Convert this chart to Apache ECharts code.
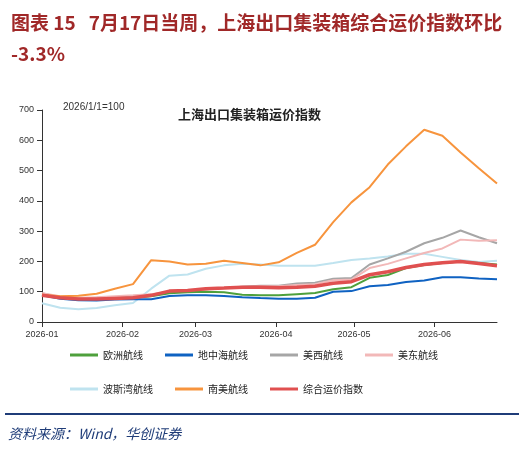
<!DOCTYPE html><html><head><meta charset="utf-8"><script src="https://cdn.jsdelivr.net/npm/echarts@6/dist/echarts.min.js"></script></head><body style="margin:0;background:#fff"><div id="c" style="width:524px;height:449px"></div><script>
const startDate='2026-01-01';
const names=['欧洲航线','地中海航线','美西航线','美东航线','波斯湾航线','南美航线','综合运价指数'];
const colors=['#4ea03c','#0f62c2','#a6a6a6','#f2b8b8','#bfe3ef','#f7943d','#e05050'];
const europe=[90,80,76,76,78,80,85,95,98,100,98,90,88,88,92,96,108,115,146,155,178,188,195,200,195,190];
const med=[88,77,72,71,74,75,75,86,88,88,86,82,79,77,77,80,100,102,118,122,132,137,148,148,144,141];
const usWest=[95,82,78,80,82,85,90,100,102,108,112,116,120,120,127,130,143,145,190,210,232,260,278,302,280,260];
const usEast=[95,85,80,82,85,88,92,100,103,108,112,115,118,118,122,125,138,140,178,192,210,228,243,272,268,270];
const gulf=[62,47,42,46,55,63,110,153,157,176,187,192,190,186,186,186,195,205,210,216,225,225,215,205,198,202];
const southAm=[90,85,87,93,110,125,204,200,190,192,202,195,187,197,228,255,330,395,445,520,580,635,615,560,508,457];
const composite=[88,80,76,76,78,80,88,102,104,110,112,115,115,113,115,118,128,133,156,166,180,190,196,200,193,186];
const yTicks=[0,100,200,300,400,500,600,700];
const all=[europe,med,usWest,usEast,gulf,southAm,composite];
const t0=Date.parse(startDate);
const dates=europe.map((_,i)=>t0+i*7*86400000);
const order=[4,2,3,0,1,5,6];
const series=order.map(k=>({name:names[k],type:'line',showSymbol:false,z:k==6?5:2,
 lineStyle:{width:k==6?3.5:2,color:colors[k]},itemStyle:{color:colors[k]},
 data:all[k].map((v,i)=>[dates[i],v])}));
const c=echarts.init(document.getElementById('c'));
c.setOption({animation:false,
 title:[{text:'图表 15   7月17日当周，上海出口集装箱综合运价指数环比-3.3%',left:6,top:2,
   textStyle:{fontFamily:'Noto Sans CJK SC',fontSize:19,fontWeight:'bold',color:'#a02828',width:505,overflow:'break',lineHeight:31}},
  {text:'上海出口集装箱运价指数',left:173,top:103,textStyle:{fontFamily:'Noto Sans CJK SC',fontSize:13,fontWeight:'bold',color:'#222'}},
  {text:'2026/1/1=100',left:58,top:97,textStyle:{fontFamily:'Liberation Sans',fontSize:10,fontWeight:'normal',color:'#333'}}],
 graphic:[
  {type:'line',shape:{x1:5,y1:414,x2:519,y2:414},style:{stroke:'#1f3c78',lineWidth:2}},
  {type:'text',left:8,top:427,style:{text:'资料来源：Wind，华创证券',font:'italic 14px "Noto Sans CJK SC"',fill:'#1f3c78'}}],
 legend:{data:names,left:70,top:349,width:420,itemWidth:28,itemHeight:3,itemGap:22,icon:'rect',padding:0,
  textStyle:{fontSize:10,fontFamily:'Noto Sans CJK SC',color:'#222',lineHeight:12,padding:[0,0,0,0]}},
 grid:{left:42,right:27,top:110,bottom:127},
 xAxis:{type:'time',min:t0,max:dates[dates.length-1],
  axisLine:{lineStyle:{color:'#333'}},axisTick:{show:true,lineStyle:{color:'#333'}},splitLine:{show:false},
  splitNumber:6,minInterval:28*86400000,
  axisLabel:{color:'#333',fontSize:9,fontFamily:'Liberation Sans',formatter:v=>{const d=new Date(v);return d.getFullYear()+'-'+String(d.getMonth()+1).padStart(2,'0');}}},
 yAxis:{type:'value',min:0,max:700,interval:100,
  axisLine:{show:true,lineStyle:{color:'#333'}},axisTick:{show:true},splitLine:{show:false},
  axisLabel:{color:'#333',fontSize:9,fontFamily:'Liberation Sans'}},
 series});
</script></body></html>
